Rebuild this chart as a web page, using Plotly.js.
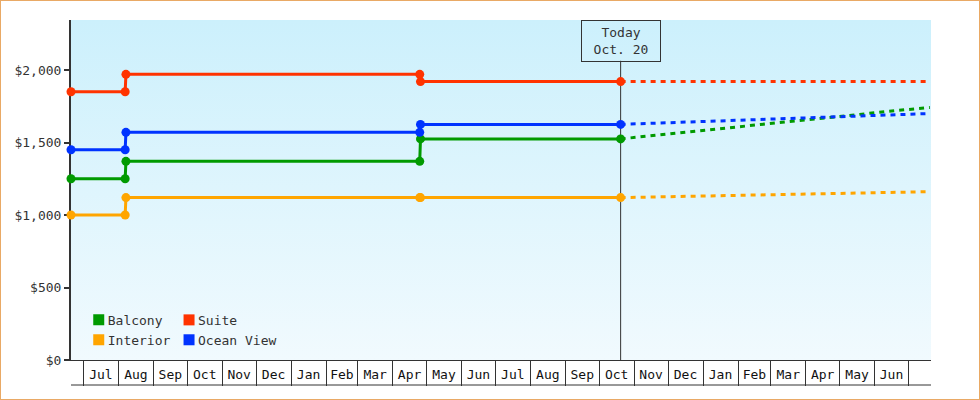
<!DOCTYPE html>
<html>
<head>
<meta charset="utf-8">
<script src="https://cdn.plot.ly/plotly-3.0.1.min.js"></script>
<style>
  html, body { margin: 0; padding: 0; background: #ffffff; }
  #wrap { position: relative; width: 980px; height: 400px; }
  #chart { position: absolute; left: 0; top: 0; width: 980px; height: 400px; }
  #frame { position: absolute; left: 0; top: 0; width: 980px; height: 400px; box-sizing: border-box; border: 1px solid #e9a965; pointer-events: none; }
</style>
</head>
<body>
<div id="wrap"><div id="chart"></div><div id="frame"></div></div>
<script>
// ---- data ----
const monthLabels = ['Jul','Aug','Sep','Oct','Nov','Dec','Jan','Feb','Mar','Apr','May','Jun',
                     'Jul','Aug','Sep','Oct','Nov','Dec','Jan','Feb','Mar','Apr','May','Jun'];
const firstMonthYear = 2018, firstMonthIndex = 6; // July 2018

const historyDates = ['2018-06-20','2018-08-07','2018-08-07 16:00','2019-04-25','2019-04-25 16:00','2019-10-20'];
const balconyPrice   = [1250, 1250, 1370, 1370, 1525, 1525];
const suitePrice     = [1850, 1850, 1970, 1970, 1920, 1920];
const interiorPrice  = [1000, 1000, 1120, 1120, 1120, 1120];
const oceanViewPrice = [1450, 1450, 1570, 1570, 1625, 1625];

const forecastDates = ['2019-10-20','2019-11-20','2019-12-20','2020-01-20','2020-02-20',
                       '2020-03-20','2020-04-20','2020-05-20','2020-06-20','2020-07-20'];
const balconyForecast   = [1525, 1550, 1574, 1598, 1622, 1650, 1674, 1696, 1720, 1742];
const suiteForecast     = [1920, 1920, 1920, 1920, 1920, 1920, 1920, 1920, 1920, 1920];
const interiorForecast  = [1120, 1125, 1129, 1134, 1138, 1143, 1147, 1152, 1156, 1161];
const oceanViewForecast = [1625, 1633, 1642, 1650, 1658, 1667, 1675, 1683, 1692, 1700];

const seriesNames = ['Balcony', 'Suite', 'Interior', 'Ocean View'];
const seriesColors = ['#009a00', '#ff3300', '#ffa500', '#0033ff'];

const todayDate = '2019-10-20';
const todayText = 'Today<br>Oct. 20';
const yTicks = [0, 500, 1000, 1500, 2000];

// ---- helpers ----
function fmt(ms) { return new Date(ms).toISOString().slice(0, 19).replace('T', ' '); }
const monthStarts = [], monthMids = [];
for (let i = 0; i <= monthLabels.length; i++) {
  monthStarts.push(Date.UTC(firstMonthYear, firstMonthIndex + i, 1));
}
for (let i = 0; i < monthLabels.length; i++) {
  monthMids.push(fmt((monthStarts[i] + monthStarts[i + 1]) / 2));
}
const monthStartStr = monthStarts.map(fmt);

const FONT = 'DejaVu Sans Mono, monospace';
const INK = '#333333';

const hist = [balconyPrice, suitePrice, interiorPrice, oceanViewPrice];
const fc = [balconyForecast, suiteForecast, interiorForecast, oceanViewForecast];

const traces = [];
// forecast (dashed)
for (let i = 0; i < 4; i++) {
  traces.push({
    x: forecastDates, y: fc[i], type: 'scatter', mode: 'lines',
    line: { color: seriesColors[i], width: 3, dash: '5px,5px' },
    showlegend: false, hoverinfo: 'skip', cliponaxis: false
  });
}
// history (solid with markers)
for (let i = 0; i < 4; i++) {
  traces.push({
    x: historyDates, y: hist[i], type: 'scatter', mode: 'lines+markers',
    line: { color: seriesColors[i], width: 3 },
    marker: { color: seriesColors[i], size: 9, symbol: 'circle' },
    showlegend: false, cliponaxis: false
  });
}
// legend entries (square swatches)
const legendOf = ['legend', 'legend2', 'legend', 'legend2'];
for (let i = 0; i < 4; i++) {
  traces.push({
    x: [null], y: [null], type: 'scatter', mode: 'markers', name: seriesNames[i],
    marker: { color: seriesColors[i], size: 11, symbol: 'square', line: { width: 0 }, angle: 90, standoff: 11 },
    legend: legendOf[i], showlegend: true
  });
}

const bgSvg = 'data:image/svg+xml;charset=utf-8,' + encodeURIComponent(
  '<svg xmlns="http://www.w3.org/2000/svg" width="10" height="100" viewBox="0 0 10 100" preserveAspectRatio="none">' +
  '<defs><linearGradient id="g" x1="0" y1="0" x2="0" y2="1">' +
  '<stop offset="0" stop-color="#ccf0fc"/><stop offset="1" stop-color="#f1fafe"/></linearGradient></defs>' +
  '<rect x="0" y="0" width="10" height="100" fill="url(#g)"/></svg>');

const legendCommon = {
  bgcolor: 'rgba(0,0,0,0)', borderwidth: 0, orientation: 'v',
  font: { family: FONT, size: 13, color: INK },
  xanchor: 'left', yanchor: 'top', tracegroupgap: 0, indentation: -11
};

const layout = {
  width: 980, height: 400,
  margin: { l: 71, r: 49, t: 20, b: 40, pad: 0 },
  paper_bgcolor: 'rgba(0,0,0,0)', plot_bgcolor: 'rgba(0,0,0,0)',
  font: { family: FONT, size: 13, color: INK },
  xaxis: {
    type: 'date', range: ['2018-06-20', '2020-07-21'],
    tickmode: 'array', tickvals: monthMids, ticktext: monthLabels,
    ticks: '', showgrid: false, zeroline: false,
    showline: true, linecolor: INK, linewidth: 1,
    tickfont: { family: FONT, size: 13, color: '#111' },
    ticklabelstandoff: 2,
    minor: { tickmode: 'array', tickvals: monthStartStr, ticks: 'outside', ticklen: 25, tickwidth: 1, tickcolor: INK, showgrid: false },
    fixedrange: true
  },
  yaxis: {
    range: [0, 2345], tickmode: 'array', tickvals: yTicks, tickformat: '$,.0f',
    ticks: 'outside', ticklen: 5, tickwidth: 2, tickcolor: INK,
    showline: true, linecolor: INK, linewidth: 2, showgrid: false, zeroline: false,
    tickfont: { family: FONT, size: 13, color: INK },
    layer: 'below traces', fixedrange: true
  },
  legend: Object.assign({ x: 0.009, y: 0.162 }, legendCommon),
  legend2: Object.assign({ x: 0.114, y: 0.162 }, legendCommon),
  images: [{ source: bgSvg, xref: 'paper', yref: 'paper', x: 0, y: 1, sizex: 1, sizey: 1,
             xanchor: 'left', yanchor: 'top', sizing: 'stretch', layer: 'below' }],
  shapes: [
    { type: 'line', xref: 'x', yref: 'paper', x0: todayDate, x1: todayDate, y0: 0, y1: 0.88,
      line: { color: INK, width: 1 }, layer: 'below' },
    { type: 'line', xref: 'paper', yref: 'paper', x0: 0, x1: 1, y0: -25 / 340, y1: -25 / 340,
      line: { color: INK, width: 1 } }
  ],
  annotations: [{
    text: todayText, x: todayDate, xref: 'x', y: 1, yref: 'paper', yanchor: 'top', xanchor: 'center',
    showarrow: false, width: 76, height: 38, bordercolor: INK, borderwidth: 1, borderpad: 1,
    font: { family: FONT, size: 13, color: INK }, align: 'center', valign: 'middle'
  }],
  hovermode: false
};

Plotly.newPlot('chart', traces, layout, { displayModeBar: false, staticPlot: true });
</script>
</body>
</html>
